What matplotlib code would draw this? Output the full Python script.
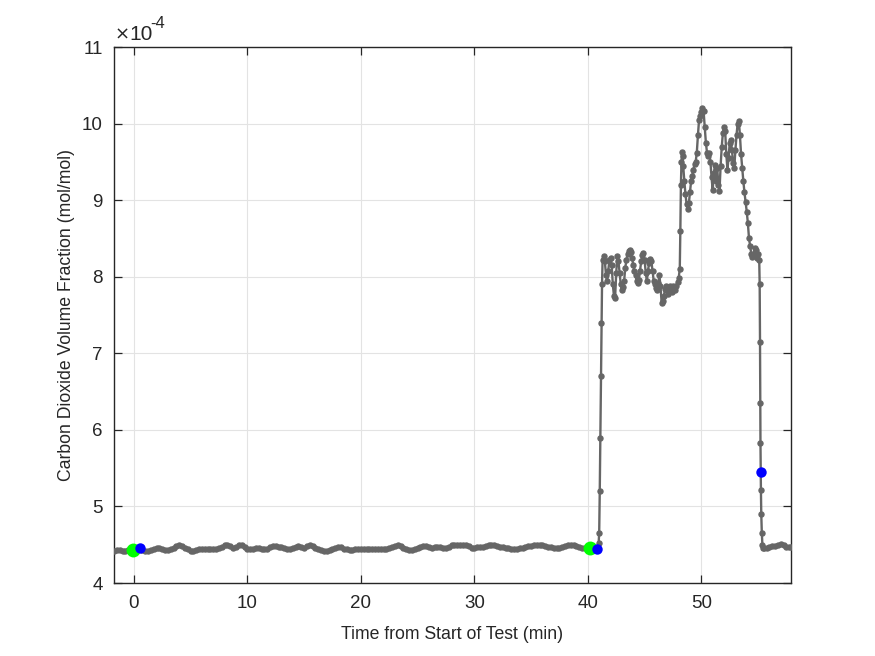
import numpy as np
import matplotlib
matplotlib.use("Agg")
import matplotlib.pyplot as plt

plt.rcParams['font.family'] = ['Liberation Sans', 'DejaVu Sans']

# ---- data (CO2 volume fraction in units of 1e-4 mol/mol) ----
# baseline, sampled every 0.25 min from -1.75 to 40.75 min
base_t0 = -1.75
base_dt = 0.25
base_co2 = [
    4.42, 4.43, 4.43, 4.42, 4.42, 4.43, 4.43, 4.44,
    4.44, 4.44, 4.43, 4.42, 4.42, 4.43, 4.45, 4.46, 4.46, 4.45, 4.43, 4.43,
    4.44, 4.46, 4.48, 4.49, 4.48, 4.46, 4.44, 4.42, 4.42, 4.43, 4.44, 4.44,
    4.45, 4.45, 4.45, 4.45, 4.45, 4.46, 4.47, 4.49, 4.50, 4.48, 4.46, 4.47,
    4.49, 4.49, 4.47, 4.45, 4.44, 4.45, 4.46, 4.46, 4.45, 4.44, 4.45, 4.47,
    4.48,
    4.48, 4.47, 4.47, 4.46, 4.45, 4.45, 4.46, 4.47, 4.48, 4.47, 4.46, 4.48,
    4.50, 4.48, 4.46, 4.45, 4.43, 4.42, 4.42, 4.43, 4.44, 4.46, 4.47, 4.47,
    4.45, 4.44, 4.43, 4.43, 4.44, 4.44, 4.44, 4.45, 4.45, 4.45, 4.45, 4.45,
    4.44, 4.45, 4.45, 4.45, 4.46, 4.47, 4.48, 4.49, 4.48, 4.46, 4.44, 4.43,
    4.43, 4.44, 4.46, 4.47, 4.48, 4.48, 4.47, 4.46, 4.47,
    4.47, 4.47, 4.46, 4.46, 4.47, 4.49, 4.50, 4.49, 4.49, 4.49, 4.49, 4.48,
    4.46, 4.46, 4.47, 4.47, 4.47, 4.48, 4.49, 4.50, 4.49, 4.48, 4.47, 4.47,
    4.46, 4.46, 4.45, 4.45, 4.45, 4.46, 4.46, 4.47, 4.48, 4.48, 4.49, 4.50,
    4.50, 4.49, 4.48, 4.47, 4.47, 4.46, 4.46, 4.46, 4.47, 4.48, 4.49, 4.50,
    4.50, 4.48, 4.47, 4.46, 4.46, 4.46, 4.46, 4.45, 4.44,
]

# rise, elevated period and fall (irregular time stamps, min)
event_t = [
    40.90, 40.95, 41.00, 41.05, 41.10, 41.15, 41.20, 41.25, 41.30,
    41.40, 41.50, 41.60, 41.70, 41.80, 41.90, 42.00, 42.10, 42.20, 42.30,
    42.40, 42.50, 42.60, 42.70, 42.80, 42.90, 43.00, 43.10, 43.20, 43.30,
    43.40, 43.50, 43.60, 43.70, 43.80, 43.90, 44.00, 44.10, 44.20, 44.30,
    44.40, 44.50, 44.60, 44.70, 44.80, 44.90, 45.00, 45.10, 45.20, 45.30,
    45.40, 45.50, 45.60, 45.70, 45.80, 45.90, 46.00, 46.10, 46.20, 46.30,
    46.40, 46.50, 46.60, 46.70, 46.80, 46.90, 47.00, 47.10, 47.20, 47.30,
    47.40, 47.50, 47.60, 47.70, 47.80, 47.90, 48.00,
    48.10, 48.15, 48.20, 48.25, 48.30, 48.35, 48.40, 48.50, 48.60, 48.70,
    48.80, 48.90, 49.00, 49.10, 49.20, 49.30, 49.40, 49.50, 49.60, 49.70,
    49.80, 49.90, 50.00, 50.10, 50.20, 50.30, 50.40, 50.50, 50.60, 50.70,
    50.80, 50.90, 51.00, 51.10, 51.20, 51.30, 51.40, 51.50, 51.60, 51.70,
    51.80, 51.90, 52.00, 52.10, 52.20, 52.30, 52.40, 52.50, 52.60, 52.70,
    52.80, 52.90, 53.00, 53.10, 53.20, 53.30, 53.40, 53.50, 53.60, 53.70,
    53.80, 53.90, 54.00, 54.10, 54.20, 54.30, 54.40, 54.50, 54.60, 54.70,
    54.80, 54.90, 55.00, 55.10,
    55.14, 55.17, 55.19, 55.21, 55.23, 55.25, 55.28, 55.33, 55.38, 55.44,
    55.50, 55.75, 56.00, 56.25, 56.50, 56.75, 57.00, 57.25, 57.50, 57.75,
    57.90,
]
event_co2 = [
    4.45, 4.52, 4.65, 5.20, 5.90, 6.70, 7.40, 7.90, 8.22,
    8.27, 8.20, 8.02, 7.94, 8.08, 8.22, 8.24, 8.15, 7.90, 7.75,
    7.72, 8.05, 8.27, 8.20, 8.05, 7.90, 7.82, 7.86, 7.95, 8.12,
    8.22, 8.30, 8.34, 8.35, 8.32, 8.25, 8.15, 8.08, 8.02, 7.94,
    7.92, 7.96, 8.08, 8.20, 8.28, 8.31, 8.22, 8.05, 7.95, 8.08,
    8.18, 8.23, 8.20, 8.08, 7.95, 7.90, 7.85, 7.82, 7.92, 8.02,
    7.88, 7.66, 7.68, 7.75, 7.84, 7.88, 7.82, 7.78, 7.88, 7.83,
    7.80, 7.88, 7.84, 7.82, 7.88, 7.93, 7.98,
    8.10, 8.60, 9.20, 9.50, 9.63, 9.58, 9.45, 9.25, 9.08, 8.95,
    8.88, 8.96, 9.10, 9.25, 9.32, 9.40, 9.47, 9.50, 9.62, 9.85,
    10.05, 10.10, 10.15, 10.20, 10.16, 9.95, 9.75, 9.62, 9.58, 9.62,
    9.50, 9.30, 9.13, 9.35, 9.46, 9.25, 9.42, 9.20, 9.12, 9.45,
    9.70, 9.88, 9.96, 9.90, 9.60, 9.40, 9.55, 9.75, 9.78, 9.65,
    9.48, 9.42, 9.65, 9.85, 10.00, 10.04, 9.85, 9.60, 9.42, 9.25,
    9.10, 8.98, 8.85, 8.70, 8.50, 8.40, 8.30, 8.26, 8.30, 8.37,
    8.35, 8.25, 8.30, 8.22,
    7.90, 7.15, 6.35, 5.83, 5.44, 5.21, 4.90, 4.65, 4.50, 4.46,
    4.46, 4.46, 4.47, 4.48, 4.48, 4.50, 4.51, 4.49, 4.47, 4.47,
    4.47,
]

green_t = [-0.1, 40.15]
green_co2 = [4.43, 4.46]
blue_t = [0.5, 40.85, 55.25]
blue_co2 = [4.46, 4.44, 5.45]

x_ticks = [0, 10, 20, 30, 40, 50]
y_ticks = [4, 5, 6, 7, 8, 9, 10, 11]
x_label = "Time from Start of Test (min)"
y_label = "Carbon Dioxide Volume Fraction (mol/mol)"

# ---- assemble ----
base_t = base_t0 + base_dt * np.arange(len(base_co2))
t = np.concatenate([base_t, np.array(event_t)])
co2 = np.concatenate([np.array(base_co2), np.array(event_co2)])

fig = plt.figure(figsize=(8.75, 6.56), dpi=100)
ax = fig.add_axes([114 / 875, 1 - 583 / 656, (791 - 114) / 875, (583 - 47) / 656])

ax.plot(t, co2, '-', color='#666666', lw=1.7, marker='o', ms=3.6,
        mec='#666666', mfc='#666666', zorder=3)
ax.plot(green_t, green_co2, 'o', color='#00ff00', ms=10, mec='none', zorder=4)
ax.plot(blue_t, blue_co2, 'o', color='#0000ff', ms=7.5, mec='none', zorder=5)

ax.set_xlim(-1.75, 57.9)
ax.set_ylim(4, 11)
ax.set_xticks(x_ticks)
ax.set_yticks(y_ticks)
ax.grid(True, color='#e3e3e3', lw=0.8)
ax.set_axisbelow(True)

axc = '#262626'
for s in ax.spines.values():
    s.set_color(axc)
    s.set_linewidth(1.0)
ax.tick_params(direction='in', length=6, width=0.9, colors=axc,
               top=True, right=True, labelsize=13.5)
ax.tick_params(axis='x', pad=9)
ax.tick_params(axis='y', pad=8)
ax.set_xlabel(x_label, fontsize=12.7, color=axc, labelpad=10)
ax.set_ylabel(y_label, fontsize=12.7, color=axc, labelpad=5)

ax.text(0.0, 1.008, r'$\times$', transform=ax.transAxes, fontsize=13,
        color=axc, ha='left', va='bottom', family='DejaVu Sans')
ax.text(0.022, 1.006, '10', transform=ax.transAxes, fontsize=15,
        color=axc, ha='left', va='bottom')
ax.text(0.054, 1.03, '-4', transform=ax.transAxes, fontsize=12,
        color=axc, ha='left', va='bottom')

fig.savefig('out.png', dpi=100, facecolor='white')
